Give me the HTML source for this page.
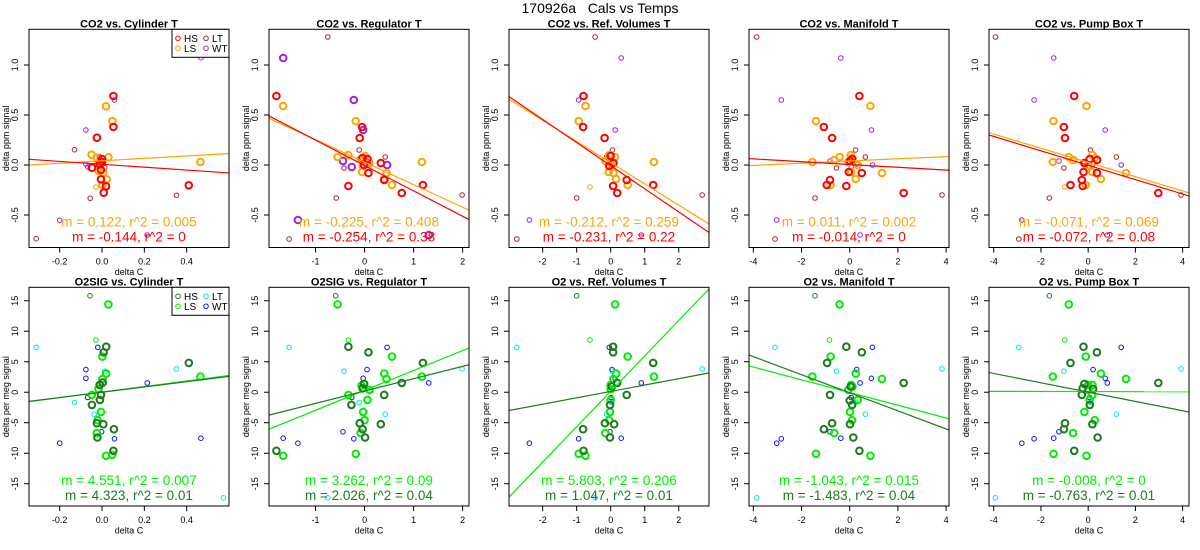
<!DOCTYPE html>
<html><head><meta charset="utf-8">
<style>
html,body{margin:0;padding:0;background:#fff;}
svg{display:block;font-family:"Liberation Sans",sans-serif;}
</style></head>
<body>
<svg id="chart" width="1200" height="550" viewBox="0 0 1200 550">
<text x="600" y="13" font-size="14" text-anchor="middle" style="white-space:pre" xml:space="preserve">170926a   Cals vs Temps</text>
</svg>
<script>
// ---------- DATA (top row: CO2 delta ppm signal) ----------
const tempNames = ["Cylinder T","Regulator T","Ref. Volumes T","Manifold T","Pump Box T"];
const topTitles = ["CO2 vs. Cylinder T","CO2 vs. Regulator T","CO2 vs. Ref. Volumes T","CO2 vs. Manifold T","CO2 vs. Pump Box T"];
const botTitles = ["O2SIG vs. Cylinder T","O2SIG vs. Regulator T","O2 vs. Ref. Volumes T","O2 vs. Manifold T","O2 vs. Pump Box T"];
const xDomains = [[-0.345,0.600],[-1.95,2.13],[-2.99,2.89],[-4.18,4.12],[-4.2,4.27]];
const xTicks = [[-0.2,0,0.2,0.4],[-1,0,1,2],[-2,-1,0,1,2],[-4,-2,0,2,4],[-4,-2,0,2,4]];
const xTickLabels = [["-0.2","0.0","0.2","0.4"],["-1","0","1","2"],["-2","-1","0","1","2"],["-4","-2","0","2","4"],["-4","-2","0","2","4"]];
const topYDomain = [-0.825,1.357];
const topYTicks = [-0.5,0,0.5,1.0];
const topYTickLabels = ["-0.5","0.0","0.5","1.0"];
const botYDomain = [-18.65,17.2];
const botYTicks = [-15,-10,-5,0,5,10,15];
const botYTickLabels = ["-15","-10","-5","0","5","10","15"];

const co2HS = [
 [[0.054,0.69],[0.054,0.38],[-0.024,0.273],[-0.048,-0.027],[-0.005,-0.143],[0.019,-0.213],[0.008,-0.277],[0.41,-0.203],[0.0,0.06],[-0.01,0.01],[0.0,0.03],[-0.005,-0.05]],
 [[-1.80,0.69],[-0.05,0.38],[-0.10,0.27],[-0.04,0.07],[0.06,0.06],[0.08,-0.08],[-0.33,-0.21],[0.33,0.02],[0.40,-0.15],[0.76,-0.28],[1.19,-0.20],[-0.01,0]],
 [[-0.8,0.69],[-0.81,0.38],[-0.18,0.27],[0.07,-0.21],[0.19,-0.28],[0.47,-0.15],[1.25,-0.2],[0.08,0.02],[0,0.09],[-0.04,-0.01]],
 [[0.40,0.69],[-1.07,0.38],[-0.73,0.27],[-0.82,-0.15],[-0.95,-0.2],[-0.14,-0.21],[0.5,-0.08],[2.24,-0.28],[-0.04,-0.07],[0.1,0.06],[0.01,0.04]],
 [[-0.59,0.69],[-1.03,0.38],[-0.98,0.27],[-0.75,-0.2],[-0.23,-0.21],[-0.27,-0.15],[-0.2,-0.07],[0.37,-0.08],[2.97,-0.28],[0.07,0.06],[0.38,0.05],[-0.16,0.02]]
];
const co2LS = [
 [[0.019,0.587],[0.049,0.44],[-0.049,0.103],[0.03,0.077],[0.465,0.03],[0.006,-0.077],[0.022,-0.143],[0.002,-0.2],[-0.017,0.023],[-0.025,0.073],[-0.016,-0.06]],
 [[-1.66,0.59],[-0.18,0.44],[-0.55,0.08],[-0.33,0.10],[0.01,0.09],[-0.08,0.06],[-0.05,-0.07],[0.1,0.02],[0.45,-0.08],[0.4,-0.14],[0.56,-0.2],[1.17,0.03],[-0.04,-0.01]],
 [[-0.74,0.59],[-0.94,0.44],[1.27,0.03],[0.13,0.08],[-0.16,0.04],[0.08,-0.08],[0.16,-0.14],[0.5,-0.2],[-0.04,0.1],[-0.06,-0.07],[0,0.02]],
 [[0.86,0.59],[-1.40,0.44],[-1.55,0.03],[-0.42,0.08],[-0.64,0.05],[-0.79,-0.2],[1.34,-0.08],[0.25,-0.14],[0.04,0.1],[0.11,0.07],[0.33,0],[-0.06,0.03],[0.06,-0.07]],
 [[-0.07,0.59],[-1.47,0.44],[-1.5,0.03],[-0.82,0.08],[-0.64,0.05],[-0.1,-0.2],[1.6,-0.08],[0.54,-0.14],[0.18,0.1],[0.28,0.07],[0.17,-0.07],[-0.16,0.02],[0,0]]
];
const co2LSsmall = [
 [[-0.029,-0.22]],[],[[-0.61,-0.22]],[],[[-0.99,-0.22]]
];
const co2LT = [
 [[-0.311,-0.737],[-0.13,0.153],[-0.056,-0.333],[0.352,-0.303],[0.013,-0.027],[-0.013,0.083]],
 [[-0.75,1.28],[-0.11,0.15],[-0.42,-0.03],[0.42,0.08],[-0.58,-0.33],[-1.54,-0.74],[1.99,-0.30]],
 [[-0.46,1.28],[0.05,0.15],[-0.12,0.08],[-1.0,-0.33],[-2.76,-0.74],[2.69,-0.30],[0.03,-0.03]],
 [[-3.86,1.28],[0.24,0.15],[0.65,0.08],[-0.55,-0.03],[-1.44,-0.33],[-3.1,-0.74],[3.83,-0.30]],
 [[-3.93,1.28],[0.1,0.15],[1.19,0.08],[-1.03,-0.03],[-1.64,-0.33],[-2.94,-0.74],[3.93,-0.30]]
];
const co2WT = [
 [[0.467,1.073],[0.059,0.65],[-0.076,0.35],[-0.2,-0.553],[0.213,-0.7],[-0.076,0.01],[-0.067,-0.02],[-0.003,0.047],[-0.02,0.0]],
 [[-1.66,1.07],[-0.22,0.65],[-0.03,0.35],[-0.44,0.04],[-0.26,-0.02],[0.46,0],[0.05,0.01],[-1.36,-0.55],[1.31,-0.70]],
 [[0.31,1.07],[-0.94,0.65],[0.13,0.35],[-2.39,-0.55],[0.9,-0.70],[-0.02,0.04],[0.01,-0.01],[0.04,0.02]],
 [[-0.37,1.07],[-2.84,0.65],[0.9,0.35],[-0.82,0.04],[0.94,0],[0.06,-0.02],[-3.03,-0.55],[0.43,-0.70],[0.29,0.01]],
 [[-1.46,1.07],[-2.29,0.65],[0.72,0.35],[-1.24,0.04],[1.4,0],[0.21,0.01],[0.06,-0.02],[-2.81,-0.55],[0.81,-0.70]]
];
const co2WTbig = [false,true,false,false,false];
const co2SlopeLS = [0.122,-0.225,-0.212,0.011,-0.071];
const co2InterceptLS = [0.042,0.028,0.023,0.04,0.025];
const co2R2LS = ["0.005","0.408","0.259","0.002","0.069"];
const co2SlopeHS = [-0.144,-0.254,-0.231,-0.014,-0.072];
const co2InterceptHS = [0.007,-0.005,-0.007,0.005,-0.002];
const co2R2HS = ["0","0.38","0.22","0","0.08"];

// ---------- DATA (bottom row: O2 delta per meg signal) ----------
const o2HS = [
 [[0.02,7.47],[0.008,6.55],[0.003,1.58],[-0.011,1.2],[-0.01,-1.25],[-0.005,-0.44],[-0.048,-2.07],[-0.024,-5.07],[0.006,-5.24],[0.056,-6.06],[-0.022,-7.42],[0.054,-9.6],[0.41,4.8]],
 [[-0.33,7.47],[0.08,6.55],[1.19,4.8],[0.76,1.53],[-0.01,1.36],[-0.04,0.65],[0.40,-0.44],[-0.27,-2.07],[-0.1,-5.07],[-0.04,-6.06],[0.33,-5.24],[0.01,-7.42],[-1.80,-9.6]],
 [[0.07,7.47],[0.07,6.55],[1.25,4.8],[0.19,1.53],[0.03,0.93],[0.47,-0.44],[-0.02,-2.07],[-0.17,-5.07],[0.1,-5.24],[-0.81,-6.06],[-0.02,-7.42],[-0.8,-9.6]],
 [[-0.14,7.47],[0.5,6.55],[-0.94,4.8],[2.24,1.53],[0.04,0.93],[-0.82,-0.44],[0,-1.36],[0.1,-2.07],[-0.73,-5.07],[0.01,-5.24],[-1.07,-6.06],[0.15,-7.42],[0.4,-9.6]],
 [[-0.2,7.47],[0.37,6.55],[-0.75,4.8],[2.97,1.53],[-0.16,1.36],[-0.23,0.65],[0.21,0.55],[-0.27,-0.44],[0.07,-2.07],[-0.98,-5.07],[0.18,-5.24],[-1.03,-6.06],[0.4,-7.42],[-0.59,-9.6]]
];
const o2HSsmall = [[[-0.057,15.8]],[[-0.59,15.8]],[[-1.0,15.8]],[[-1.44,15.8]],[[-1.64,15.8]]];
const o2LS = [
 [[0.03,14.4],[0.002,5.84],[0.02,3.06],[0.002,2.18],[-0.017,0.55],[-0.048,-0.44],[-0.005,-3.22],[-0.021,-4.58],[-0.024,-6.7],[0.048,-10.26],[0.019,-10.42],[0.465,2.56],[-0.01,1.2]],
 [[-0.55,14.4],[0.56,5.84],[0.4,3.06],[0.45,2.18],[1.17,2.56],[0.1,0.38],[-0.06,1.09],[-0.33,-0.44],[0.06,-1.25],[-0.03,-3.22],[0,-4.58],[-0.08,-6.7],[-0.18,-10.1],[-1.66,-10.42]],
 [[0.13,14.4],[0.5,5.84],[0.16,3.06],[1.27,2.56],[0.08,2.18],[0,1.2],[0,0.5],[0,-1.25],[-0.02,-3.22],[-0.04,-4.58],[-0.16,-6.7],[-0.94,-10.1],[-0.74,-10.42]],
 [[-0.42,14.4],[-0.79,5.84],[0.25,3.06],[-1.55,2.56],[1.34,2.18],[0.06,1.2],[0.11,0.93],[-0.06,0.38],[0.33,-1.25],[0.01,-3.22],[0.1,-4.58],[-0.64,-6.7],[-1.4,-10.1],[0.86,-10.42]],
 [[-0.82,14.4],[-0.1,5.84],[0.54,3.06],[-1.5,2.56],[1.6,2.18],[0,1.2],[0.18,1.2],[0,0.38],[0.17,-0.44],[0.06,-1.25],[-0.16,-3.22],[0.28,-4.58],[-0.64,-6.7],[-1.47,-10.1],[-0.07,-10.42]]
];
const o2LSsmall = [[[-0.029,8.56]],[[-0.33,8.56]],[[-0.61,8.56]],[[-0.84,8.56]],[[-0.99,8.56]]];
const o2LT = [
 [[-0.311,7.36],[-0.13,-1.69],[-0.037,-3.6],[0.352,3.82],[0.013,3.44],[0.573,-17.3]],
 [[-1.54,7.36],[-0.42,3.44],[-0.11,-1.69],[0.42,-3.6],[1.99,3.82],[-0.75,-17.3]],
 [[-2.76,7.36],[0.05,3.44],[-0.12,-3.6],[0.03,-1.69],[2.69,3.82],[-0.46,-17.3]],
 [[-3.1,7.36],[-0.55,3.44],[0.24,-1.69],[0.65,-3.6],[3.83,3.82],[-3.86,-17.3]],
 [[-2.94,7.36],[-1.03,3.44],[0.1,-1.69],[1.19,-3.6],[3.93,3.82],[-3.93,-17.3]]
];
const o2WT = [
 [[-0.02,7.36],[-0.076,3.71],[-0.076,2.29],[-0.068,-0.87],[-0.002,-6.49],[0.059,-7.64],[-0.2,-8.35],[0.214,1.53],[0.467,-7.53]],
 [[0.46,7.36],[0.05,3.71],[-0.03,2.29],[-0.26,-0.87],[-0.44,-6.49],[-0.22,-7.64],[-1.66,-7.53],[-1.36,-8.35],[1.31,1.53]],
 [[-0.04,7.36],[0.04,3.71],[0.13,2.29],[0.01,-0.87],[-0.02,-6.49],[0.31,-7.53],[-0.94,-7.64],[-2.39,-8.35],[0.9,1.53]],
 [[0.94,7.36],[0.29,3.71],[0.9,2.29],[0.43,1.53],[0.06,-0.87],[-0.82,-6.49],[-0.37,-7.53],[-2.84,-7.64],[-3.03,-8.35]],
 [[1.4,7.36],[0.21,3.71],[0.72,2.29],[0.81,1.53],[0.06,-0.87],[-1.24,-6.49],[-1.46,-7.53],[-2.29,-7.64],[-2.81,-8.35]]
];
const o2SlopeLS = [4.551,3.262,5.803,-1.043,-0.008];
const o2InterceptLS = [0.02,0.3,0.15,-0.05,0.11];
const o2R2LS = ["0.007","0.09","0.206","0.015","0"];
const o2SlopeHS = [4.323,2.026,1.047,-1.483,-0.763];
const o2InterceptHS = [0.0,0.19,0.13,-0.09,0.02];
const o2R2HS = ["0.01","0.04","0.01","0.04","0.01"];

// ---------- DRAWING ----------
const NS = "http://www.w3.org/2000/svg";
const svg = document.getElementById("chart");
function mk(tag, attrs, parent){
  const e = document.createElementNS(NS, tag);
  for (const k in attrs) e.setAttribute(k, attrs[k]);
  (parent || svg).appendChild(e);
  return e;
}
const BOX_L = 29, BOX_W = 200;
const rows = [
  {top:29.3, bottom:247.5, yDom:topYDomain, yTicks:topYTicks, yLabs:topYTickLabels, ytitle:"delta ppm signal", titles:topTitles, key:"co2"},
  {top:287.3, bottom:506, yDom:botYDomain, yTicks:botYTicks, yLabs:botYTickLabels, ytitle:"delta per meg signal", titles:botTitles, key:"o2"}
];
const colors = {
  co2:{HS:"#ff0000", LS:"#ffa500", LT:"#a52a2a", WT:"#a020f0"},
  o2:{HS:"#1e7a1e", LS:"#00ee00", LT:"#00e5ee", WT:"#1010ff"}
};

function drawPoint(g, cx, cy, color, big){
  const c = mk("circle", {cx:cx.toFixed(1), cy:cy.toFixed(1), r: big?3.3:2.3, fill:"none", stroke:color, "stroke-width": big?2:1}, g);
  
  
}

for (let r = 0; r < 2; r++){
  const row = rows[r];
  for (let p = 0; p < 5; p++){
    const ox = 240*p;
    const L = ox + BOX_L, R = L + BOX_W, T = row.top, B = row.bottom;
    const xd = xDomains[p], yd = row.yDom;
    const sx = v => L + (v - xd[0])/(xd[1]-xd[0])*(R-L);
    const sy = v => B - (v - yd[0])/(yd[1]-yd[0])*(B-T);
    const panel = mk("g", {});
    
    

    const t = mk("text", {x:(L+R)/2, y:T-2, "font-size":"11", "font-weight":"bold", "text-anchor":"middle"}, panel);
    t.textContent = row.titles[p];
    
    

    const cid = "clip" + r + p;
    const cp = mk("clipPath", {id:cid}, panel);
    mk("rect", {x:L, y:T, width:R-L, height:B-T}, cp);

    const xa = mk("g", {}, panel);
    
    
    mk("line", {x1:sx(xTicks[p][0]), x2:sx(xTicks[p][xTicks[p].length-1]), y1:B, y2:B, stroke:"#000"}, xa);
    xTicks[p].forEach((v,i)=>{
      mk("line", {x1:sx(v), x2:sx(v), y1:B, y2:B+5, stroke:"#000"}, xa);
      const tl = mk("text", {x:sx(v), y:B+17, "font-size":"9", "text-anchor":"middle"}, xa);
      tl.textContent = xTickLabels[p][i];
      
      
    });
    const xt = mk("text", {x:(L+R)/2, y:B+27.5, "font-size":"9", "text-anchor":"middle"}, xa);
    xt.textContent = "delta C";
    
    

    const ya = mk("g", {}, panel);
    
    
    row.yTicks.forEach((v,i)=>{
      mk("line", {x1:L-5, x2:L, y1:sy(v), y2:sy(v), stroke:"#000"}, ya);
      const tx = L-11, ty = sy(v);
      const tl = mk("text", {x:tx, y:ty, "font-size":"9", "text-anchor":"middle", transform:`rotate(-90 ${tx} ${ty})`}, ya);
      tl.textContent = row.yLabs[i];
      
      
    });
    const yx = ox + 9, yy = (T+B)/2;
    const yt = mk("text", {x:yx, y:yy, "font-size":"9", "text-anchor":"middle", transform:`rotate(-90 ${yx} ${yy})`}, ya);
    yt.textContent = row.ytitle;
    
    

    const pg = mk("g", {"clip-path":`url(#${cid})`}, panel);
    
    
    const col = colors[row.key];
    if (r === 0){
      co2LT[p].forEach(d=>drawPoint(pg, sx(d[0]), sy(d[1]), col.LT, false));
      co2WT[p].forEach(d=>drawPoint(pg, sx(d[0]), sy(d[1]), col.WT, co2WTbig[p]));
      co2LSsmall[p].forEach(d=>drawPoint(pg, sx(d[0]), sy(d[1]), col.LS, false));
      co2LS[p].forEach(d=>drawPoint(pg, sx(d[0]), sy(d[1]), col.LS, true));
      co2HS[p].forEach(d=>drawPoint(pg, sx(d[0]), sy(d[1]), col.HS, true));
    } else {
      o2LT[p].forEach(d=>drawPoint(pg, sx(d[0]), sy(d[1]), col.LT, false));
      o2WT[p].forEach(d=>drawPoint(pg, sx(d[0]), sy(d[1]), col.WT, false));
      o2LSsmall[p].forEach(d=>drawPoint(pg, sx(d[0]), sy(d[1]), col.LS, false));
      o2HSsmall[p].forEach(d=>drawPoint(pg, sx(d[0]), sy(d[1]), col.HS, false));
      o2LS[p].forEach(d=>drawPoint(pg, sx(d[0]), sy(d[1]), col.LS, true));
      o2HS[p].forEach(d=>drawPoint(pg, sx(d[0]), sy(d[1]), col.HS, true));
    }

    const mLS = r===0 ? co2SlopeLS[p] : o2SlopeLS[p];
    const bLS = r===0 ? co2InterceptLS[p] : o2InterceptLS[p];
    const mHS = r===0 ? co2SlopeHS[p] : o2SlopeHS[p];
    const bHS = r===0 ? co2InterceptHS[p] : o2InterceptHS[p];
    const l1 = mk("line", {x1:sx(xd[0]), y1:sy(bLS + mLS*xd[0]), x2:sx(xd[1]), y2:sy(bLS + mLS*xd[1]), stroke:col.LS, "stroke-width":1.2, "clip-path":`url(#${cid})`}, panel);
    
    
    const l2 = mk("line", {x1:sx(xd[0]), y1:sy(bHS + mHS*xd[0]), x2:sx(xd[1]), y2:sy(bHS + mHS*xd[1]), stroke:col.HS, "stroke-width":1.2, "clip-path":`url(#${cid})`}, panel);
    
    

    const r2LS = r===0 ? co2R2LS[p] : o2R2LS[p];
    const r2HS = r===0 ? co2R2HS[p] : o2R2HS[p];
    const a1 = mk("text", {x:L+100, y:B-21, "font-size":"13.5", "text-anchor":"middle", fill:col.LS}, panel);
    a1.textContent = `m = ${mLS}, r^2 = ${r2LS}`;
    
    
    const a2 = mk("text", {x:L+100, y:B-6, "font-size":"13.5", "text-anchor":"middle", fill:col.HS}, panel);
    a2.textContent = `m = ${mHS}, r^2 = ${r2HS}`;
    
    

    const bx = mk("rect", {x:L, y:T, width:R-L, height:B-T, fill:"none", stroke:"#000", "stroke-width":1}, panel);
    
    

    if (p === 0){
      const lg = mk("g", {}, panel);
      
      
      mk("rect", {x:172, y:T, width:57, height:28, fill:"#fff", stroke:"#000"}, lg);
      const ents = [["HS",178,T+9],["LT",206,T+9],["LS",178,T+19],["WT",206,T+19]];
      ents.forEach(e=>{
        mk("circle", {cx:e[1], cy:e[2], r:2.3, fill:"none", stroke:col[e[0]], "stroke-width":1}, lg);
        const lt = mk("text", {x:e[1]+6, y:e[2]+3.5, "font-size":"10"}, lg);
        lt.textContent = e[0];
        
        
      });
    }
  }
}
</script>
</body></html>
